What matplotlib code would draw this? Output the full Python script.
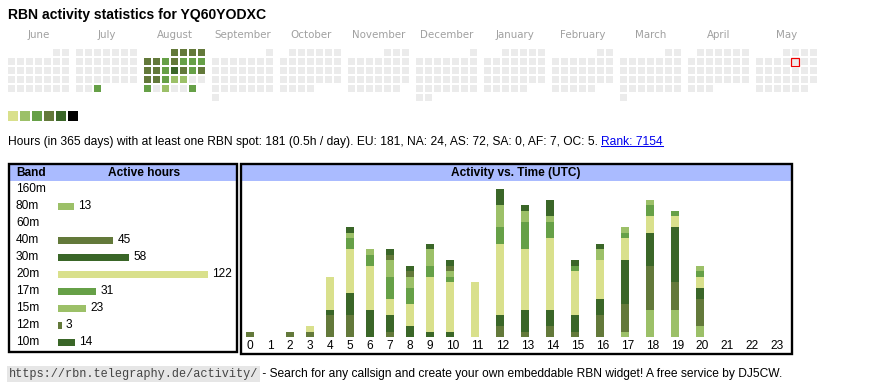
import matplotlib
matplotlib.use("Agg")
import matplotlib.pyplot as plt
from matplotlib.patches import Rectangle
import datetime as dt
import calendar

# ---------------- data ----------------
title = "RBN activity statistics for YQ60YODXC"
month_names = ["June", "July", "August", "September", "October", "November",
               "December", "January", "February", "March", "April", "May"]
month_years = [2024, 2024, 2024, 2024, 2024, 2024, 2024, 2025, 2025, 2025, 2025, 2025]
month_nums = [6, 7, 8, 9, 10, 11, 12, 1, 2, 3, 4, 5]
today = "2025-05-09"

active_dates = ["2024-07-31",
                "2024-08-01", "2024-08-02", "2024-08-03", "2024-08-04",
                "2024-08-05", "2024-08-06", "2024-08-07", "2024-08-08", "2024-08-09", "2024-08-10", "2024-08-11",
                "2024-08-12", "2024-08-13", "2024-08-14", "2024-08-15", "2024-08-16", "2024-08-17", "2024-08-18",
                "2024-08-19", "2024-08-20", "2024-08-21", "2024-08-22", "2024-08-23",
                "2024-08-26", "2024-08-28", "2024-08-31"]
active_levels = [3,
                 4, 4, 4, 4,
                 4, 4, 3, 4, 3, 3, 3,
                 4, 4, 3, 5, 4, 3, 4,
                 4, 4, 3, 2, 2,
                 3, 2, 3]

summary = ("Hours (in 365 days) with at least one RBN spot: 181 (0.5h / day). "
           "EU: 181, NA: 24, AS: 72, SA: 0, AF: 7, OC: 5.")
rank_text = "Rank: 7154"
footer_url = "https://rbn.telegraphy.de/activity/"
footer_text = " - Search for any callsign and create your own embeddable RBN widget! A free service by DJ5CW."

bands = ["160m", "80m", "60m", "40m", "30m", "20m", "17m", "15m", "12m", "10m"]
band_hours = [0, 13, 0, 45, 58, 122, 31, 23, 3, 14]

hours = list(range(24))
# active hours per UTC hour, per band (stacked bottom -> top)
h80 = [0, 0, 0, 0, 0, 0, 0, 0, 0, 0, 0, 0, 0, 0, 0, 0, 0, 1, 5, 5, 2, 0, 0, 0]
h40 = [1, 0, 1, 1, 4, 4, 0, 1, 0, 0, 0, 0, 2, 1, 2, 1, 4, 5, 8, 5, 5, 0, 0, 0]
h30 = [0, 0, 0, 0, 1, 4, 5, 3, 2, 1, 1, 0, 2, 4, 3, 3, 3, 8, 6, 10, 2, 0, 0, 0]
h20 = [0, 0, 0, 1, 6, 8, 8, 3, 4, 10, 9, 10, 13, 11, 13, 8, 7, 4, 3, 2, 2, 0, 0, 0]
h17 = [0, 0, 0, 0, 0, 2, 2, 4, 3, 2, 1, 0, 3, 5, 3, 1, 0, 1, 2, 1, 1, 0, 0, 0]
h15 = [0, 0, 0, 0, 0, 1, 1, 3, 2, 3, 1, 0, 4, 2, 1, 0, 2, 1, 1, 0, 1, 0, 0, 0]
h12 = [0, 0, 0, 0, 0, 0, 0, 1, 1, 0, 1, 0, 0, 0, 0, 0, 0, 0, 0, 0, 0, 0, 0, 0]
h10 = [0, 0, 0, 0, 0, 1, 0, 1, 1, 1, 1, 0, 3, 1, 3, 1, 1, 0, 0, 0, 0, 0, 0, 0]

# ---------------- style ----------------
PALE, LIGHT, MED, OLIVE, DARK = "#d9e08c", "#9cc068", "#66a047", "#63793a", "#3a6628"
level_colors = {1: PALE, 2: LIGHT, 3: MED, 4: OLIVE, 5: DARK}
legend_colors = [PALE, LIGHT, MED, OLIVE, DARK, "#000000"]
band_colors = [PALE, LIGHT, MED, OLIVE, DARK, PALE, MED, LIGHT, OLIVE, DARK]
EMPTY = "#ebebeb"
HEADER = "#aabbff"
SANS = ["Liberation Sans", "DejaVu Sans"]
FS = 8.6
FS_LINE = 8.65

W, H = 870, 390
fig = plt.figure(figsize=(W / 100, H / 100), dpi=100)
bg = fig.add_axes([0, 0, 1, 1])
bg.set_xlim(0, W)
bg.set_ylim(H, 0)
bg.axis("off")


def fax(x0, y0, x1, y1):
    return fig.add_axes([x0 / W, 1 - y1 / H, (x1 - x0) / W, (y1 - y0) / H])


# title
bg.text(8, 15.5, title, fontsize=10.05, fontweight="bold", family=SANS, va="center", ha="left")

# ---------------- calendar ----------------
CAL_X, CAL_Y, CELL, PITCH, BLOCK = 8, 49, 7, 9, 68
active = {d: l for d, l in zip(active_dates, active_levels)}
for k, (mn, yr, mo) in enumerate(zip(month_names, month_years, month_nums)):
    bx = CAL_X + BLOCK * k
    bg.text(bx + 31, 35, mn, fontsize=7.4, color="#a0a0a0", family="DejaVu Sans",
            ha="center", va="center")
    first_wd, ndays = calendar.monthrange(yr, mo)
    for d in range(1, ndays + 1):
        idx = d - 1 + first_wd
        col, row = idx % 7, idx // 7
        key = dt.date(yr, mo, d).isoformat()
        c = level_colors.get(active.get(key), EMPTY)
        x, y = bx + PITCH * col, CAL_Y + PITCH * row
        bg.add_patch(Rectangle((x, y), CELL, CELL, facecolor=c, edgecolor="none"))
        if key == today:
            bg.add_patch(Rectangle((x - 0.5, y - 0.5), CELL + 1, CELL + 1, facecolor="none",
                                   edgecolor="#ee0000", lw=0.9))

for i, c in enumerate(legend_colors):
    bg.add_patch(Rectangle((8 + 12 * i, 111), 10, 10, facecolor=c, edgecolor="none"))

# summary line
t1 = bg.text(8, 142, summary, fontsize=FS_LINE, family=SANS, va="center", ha="left")
fig.canvas.draw()
r = fig.canvas.get_renderer()
inv = bg.transData.inverted()
bb = t1.get_window_extent(r)
x_end = inv.transform((bb.x1, bb.y0))[0]
t2 = bg.text(x_end + 3, 142, rank_text, fontsize=FS_LINE, family=SANS, va="center", ha="left",
             color="#0000ee")
fig.canvas.draw()
bb2 = t2.get_window_extent(r)
(ux0, uy), (ux1, _) = inv.transform([(bb2.x0, bb2.y0), (bb2.x1, bb2.y0)])
bg.plot([ux0, ux1], [uy - 2.4, uy - 2.4], color="#0000ee", lw=0.75)

# ---------------- boxes ----------------
for (x0, y0, x1, y1) in [(9, 164, 237, 352), (241, 164, 792, 354)]:
    bg.add_patch(Rectangle((x0 + 1, y0 + 1), x1 - x0 - 2, 16, facecolor=HEADER, edgecolor="none"))
    bg.add_patch(Rectangle((x0, y0), x1 - x0, y1 - y0, facecolor="none", edgecolor="black", lw=1.7))

bg.text(16, 173, "Band", fontsize=FS, fontweight="bold", family=SANS, va="center", ha="left")
bg.text(144, 173, "Active hours", fontsize=FS, fontweight="bold", family=SANS, va="center", ha="center")
bg.text(516, 173, "Activity vs. Time (UTC)", fontsize=FS, fontweight="bold", family=SANS,
        va="center", ha="center")

# ---------------- band table ----------------
ROW0, ROWP = 189, 17
for i, b in enumerate(bands):
    bg.text(16, ROW0 + ROWP * i, b, fontsize=FS, family=SANS, va="center", ha="left")

axb = fax(58, ROW0 - ROWP / 2, 230, ROW0 + ROWP * (len(bands) - 0.5))
axb.set_xlim(0, max(band_hours) * 172 / 150)
axb.set_ylim(len(bands) - 0.5, -0.5)
axb.axis("off")
axb.patch.set_alpha(0)
ypos = list(range(len(bands)))
vals = [v for v in band_hours]
axb.barh(ypos, vals, height=7 / 17, color=band_colors, edgecolor="none")
for y, v in zip(ypos, vals):
    if v > 0:
        axb.annotate(str(v), (v, y), xytext=(2.9, 0), textcoords="offset points",
                     va="center", ha="left", fontsize=FS, family=SANS)

# ---------------- hourly chart ----------------
col_w = [20 if h < 10 else 25 for h in hours]
starts = [sum(col_w[:i]) for i in range(len(hours))]
bar_x = [s + 10.5 for s in starts]
lab_x = [s + w / 2 for s, w in zip(starts, col_w)]

axh = fax(240, 181, 240 + sum(col_w), 337)
axh.set_xlim(0, sum(col_w))
axh.set_ylim(0, 156 / 5.5)
axh.patch.set_alpha(0)
for s in axh.spines.values():
    s.set_visible(False)
axh.set_yticks([])
axh.set_xticks(lab_x)
axh.set_xticklabels([str(h) for h in hours], fontsize=FS, family=SANS)
axh.tick_params(axis="x", length=0, pad=2.3)

stack = [(h80, LIGHT), (h40, OLIVE), (h30, DARK), (h20, PALE), (h17, MED),
         (h15, LIGHT), (h12, OLIVE), (h10, DARK)]
bottom = [0] * 24
for series, c in stack:
    axh.bar(bar_x, series, width=8, bottom=bottom, color=c, edgecolor="none")
    bottom = [b + s for b, s in zip(bottom, series)]

# ---------------- footer ----------------
f1 = bg.text(9, 374, footer_url, fontsize=8.6, family=["Liberation Mono", "DejaVu Sans Mono"],
             color="#444444", va="center", ha="left",
             bbox=dict(facecolor="#e6e6e6", edgecolor="none", pad=1.2))
fig.canvas.draw()
bbf = f1.get_window_extent(r)
xf = inv.transform((bbf.x1, bbf.y0))[0]
bg.text(xf + 1, 374, footer_text, fontsize=FS_LINE, family=SANS, va="center", ha="left")

fig.savefig("out.png", dpi=100)
